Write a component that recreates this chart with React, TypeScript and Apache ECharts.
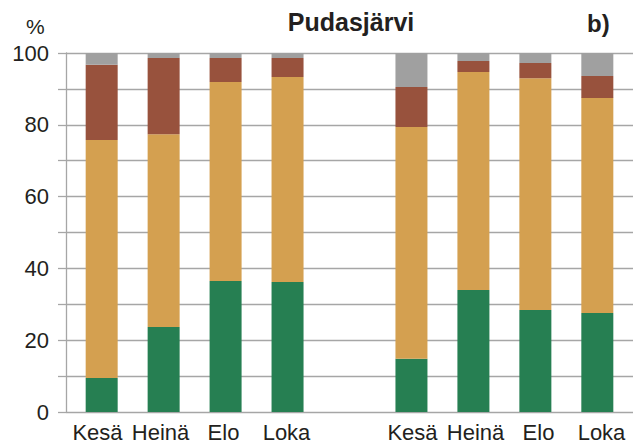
import React, { useEffect, useRef } from "react";
import * as echarts from "echarts";

const categories = ["Kesä", "Heinä", "Elo", "Loka", "", "Kesä", "Heinä", "Elo", "Loka"];
const greenValues = [9.5, 23.7, 36.5, 36.2, "-", 14.8, 34.0, 28.4, 27.6];
const orangeValues = [66.3, 53.7, 55.4, 57.1, "-", 64.6, 60.7, 64.6, 59.9];
const brownValues = [20.9, 21.2, 6.7, 5.3, "-", 11.1, 3.1, 4.2, 6.1];
const grayValues = [3.3, 1.4, 1.4, 1.4, "-", 9.5, 2.2, 2.8, 6.4];
const yTicks = [0, 20, 40, 60, 80, 100];

const FONT = "'Liberation Sans', Arial, Helvetica, sans-serif";
const GRID_COLOR = "#a6a6a6";
const TEXT_COLOR = "#231f20";

export default function App() {
  const ref = useRef<HTMLDivElement>(null);
  useEffect(() => {
    document.body.style.margin = "0";
    if (!ref.current) return;
    const chart = echarts.init(ref.current, undefined, { renderer: "svg" });
    const top = 53;
    const bottom = 34;
    const option: any = {
      animation: false,
      backgroundColor: "#ffffff",
      textStyle: { fontFamily: FONT },
      grid: [
        { left: 66, right: 6, top, bottom },
        { left: 70.7, right: 10.7, top, bottom },
      ],
      xAxis: [
        {
          gridIndex: 0,
          type: "category",
          data: categories,
          axisLine: { show: false },
          axisTick: { show: false },
          axisLabel: {
            show: true,
            fontSize: 22,
            color: TEXT_COLOR,
            fontFamily: FONT,
            margin: 9,
            interval: 0,
          },
          splitLine: { show: false },
        },
        {
          gridIndex: 1,
          type: "category",
          data: categories,
          axisLine: { show: false },
          axisTick: { show: false },
          axisLabel: { show: false },
          splitLine: { show: false },
        },
      ],
      yAxis: [
        {
          gridIndex: 0,
          type: "value",
          min: 0,
          max: 100,
          interval: 10,
          axisLine: { show: true, lineStyle: { color: GRID_COLOR, width: 1.3 } },
          axisTick: { show: true, length: 8, lineStyle: { color: GRID_COLOR, width: 1.3 } },
          splitLine: { show: true, lineStyle: { color: GRID_COLOR, width: 1.3 } },
          axisLabel: {
            fontSize: 22,
            color: TEXT_COLOR,
            fontFamily: FONT,
            margin: 17,
            formatter: (v: number) => (yTicks.includes(v) ? String(v) : ""),
          },
        },
        {
          gridIndex: 1,
          type: "value",
          min: 0,
          max: 100,
          show: false,
          splitLine: { show: false },
        },
      ],
      series: [
        { name: "green", data: greenValues, color: "#267f52" },
        { name: "orange", data: orangeValues, color: "#d4a050" },
        { name: "brown", data: brownValues, color: "#98523d" },
        { name: "gray", data: grayValues, color: "#a0a0a0" },
      ].map((s) => ({
        type: "bar",
        name: s.name,
        xAxisIndex: 1,
        yAxisIndex: 1,
        stack: "total",
        barWidth: 32,
        data: s.data,
        itemStyle: { color: s.color },
      })),
      graphic: [
        {
          type: "text",
          left: 26,
          top: 16,
          style: { text: "%", fontSize: 21, fill: TEXT_COLOR, fontFamily: FONT },
        },
        {
          type: "text",
          x: 351,
          y: 9,
          style: {
            text: "Pudasjärvi",
            fontSize: 25,
            fontWeight: "bold",
            fill: TEXT_COLOR,
            fontFamily: FONT,
            textAlign: "center",
            textVerticalAlign: "top",
          },
        },
        {
          type: "text",
          left: 587,
          top: 11,
          style: { text: "b)", fontSize: 24, fontWeight: "bold", fill: TEXT_COLOR, fontFamily: FONT },
        },
      ],
    };
    chart.setOption(option);
    return () => chart.dispose();
  }, []);
  return (
    <div
      ref={ref}
      style={{ width: 639, height: 446, position: "absolute", left: 0, top: 0 }}
    />
  );
}
